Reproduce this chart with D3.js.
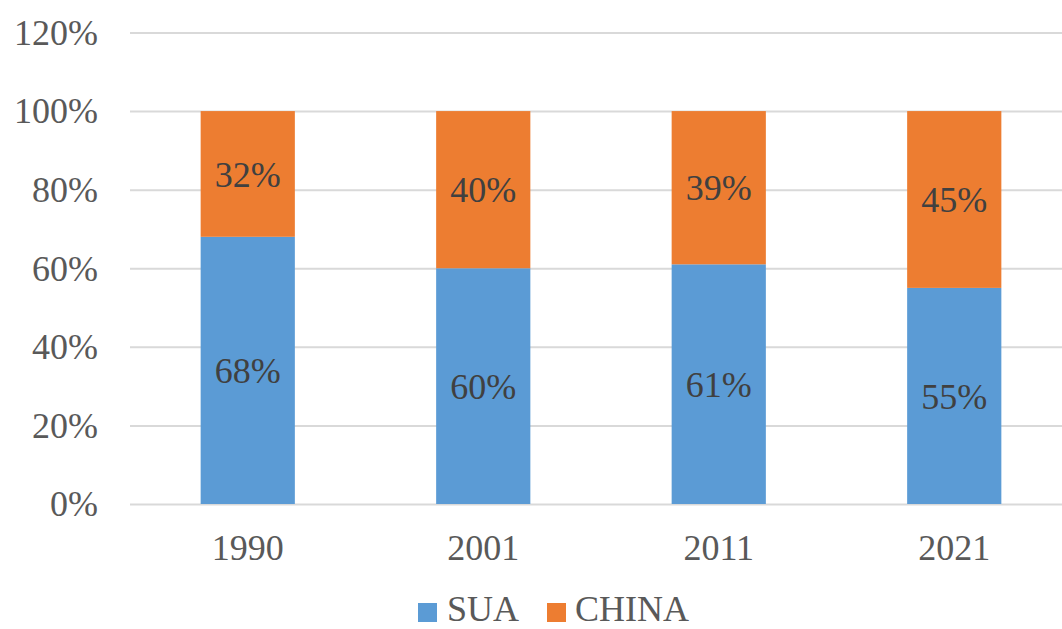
<!DOCTYPE html>
<html>
<head>
<meta charset="utf-8">
<script src="https://cdn.jsdelivr.net/npm/d3@7"></script>
<style>
  html, body { margin: 0; padding: 0; background: #fff; }
  svg { display: block; }
  svg text { font-family: "Liberation Serif", "Times New Roman", serif; font-size: 36px; }
</style>
</head>
<body>
<svg id="chart" width="1062" height="629"></svg>
<script>
// Share of the two economies, by year (percent)
const years = ["1990", "2001", "2011", "2021"];
const sua = [68, 60, 61, 55];
const china = [32, 40, 39, 45];
const yTicks = [0, 20, 40, 60, 80, 100, 120];
const seriesNames = ["SUA", "CHINA"];
const seriesColors = ["#5B9BD5", "#ED7D31"];

const svg = d3.select("#chart");
const plot = { left: 130, right: 1072, top: 32.5, bottom: 504 };

const x = d3.scaleBand()
  .domain(years)
  .range([plot.left, plot.right])
  .paddingInner(0.6)
  .paddingOuter(0.3);

const y = d3.scaleLinear()
  .domain([0, 120])
  .range([plot.bottom, plot.top]);

// Horizontal gridlines with percent labels
const yAxis = d3.axisLeft(y)
  .tickValues(yTicks)
  .tickSize(-(plot.right - plot.left))
  .tickPadding(32)
  .tickFormat(d => d + "%");

const gy = svg.append("g")
  .attr("transform", `translate(${plot.left},0)`)
  .call(yAxis)
  .attr("font-family", null)
  .attr("font-size", null);
gy.select(".domain").remove();
gy.selectAll(".tick line").attr("stroke", "#D9D9D9").attr("stroke-width", 2);
gy.selectAll(".tick text")
  .attr("fill", "#595959")
  .attr("dy", "0.33em");

// Stacked data
const rows = years.map((yr, i) => ({ year: yr, SUA: sua[i], CHINA: china[i] }));
const stack = d3.stack().keys(seriesNames)(rows);

const layers = svg.append("g").selectAll("g")
  .data(stack)
  .join("g")
  .attr("fill", (d, i) => seriesColors[i]);

layers.selectAll("rect")
  .data(d => d)
  .join("rect")
  .attr("x", d => x(d.data.year))
  .attr("width", x.bandwidth())
  .attr("y", d => y(d[1]))
  .attr("height", d => y(d[0]) - y(d[1]));

// Value labels centred in each segment
layers.selectAll("text")
  .data((d) => d.map(s => ({ s, key: d.key })))
  .join("text")
  .attr("x", d => x(d.s.data.year) + x.bandwidth() / 2)
  .attr("y", d => y((d.s[0] + d.s[1]) / 2))
  .attr("dy", "0.35em")
  .attr("text-anchor", "middle")
  .attr("fill", "#404040")
  .text(d => d.s.data[d.key] + "%");

// Category labels
const xAxis = d3.axisBottom(x).tickSize(0).tickPadding(30);
const gx = svg.append("g")
  .attr("transform", `translate(0,${plot.bottom})`)
  .call(xAxis)
  .attr("font-family", null)
  .attr("font-size", null);
gx.select(".domain").remove();
gx.selectAll(".tick text")
  .attr("fill", "#595959");

// Legend
const legendItems = [
  { name: seriesNames[0], color: seriesColors[0], sx: 418, tx: 447 },
  { name: seriesNames[1], color: seriesColors[1], sx: 547, tx: 575 }
];
const legend = svg.append("g");
legend.selectAll("rect")
  .data(legendItems)
  .join("rect")
  .attr("x", d => d.sx)
  .attr("y", 603)
  .attr("width", 19)
  .attr("height", 19)
  .attr("fill", d => d.color);
legend.selectAll("text")
  .data(legendItems)
  .join("text")
  .attr("x", d => d.tx)
  .attr("y", 621)
  .attr("fill", "#595959")
  .text(d => d.name);
</script>
</body>
</html>
